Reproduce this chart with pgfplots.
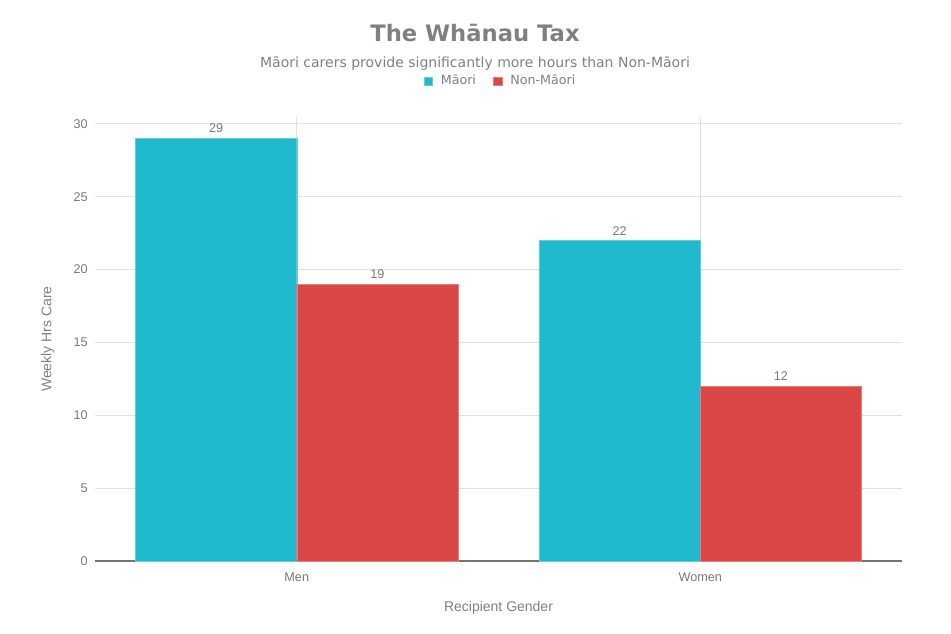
\documentclass[border=0pt]{standalone}
\usepackage{fontspec}
\setmainfont{DejaVu Sans}
\newfontfamily\tickfont{Liberation Sans}
\usepackage{pgfplots}
\pgfplotsset{compat=1.18}
\definecolor{maori}{RGB}{32,184,205}
\definecolor{nonmaori}{RGB}{219,70,70}
\definecolor{txt}{RGB}{128,128,128}
\definecolor{tick}{RGB}{120,120,120}
\definecolor{grd}{RGB}{225,225,225}
\begin{document}
\begin{tikzpicture}
\useasboundingbox (-71.25pt,-54pt) rectangle (642pt,420.75pt);
\begin{axis}[
    scale only axis,
    width=605.25pt, height=333pt,
    ybar=0pt, bar width=0.4,
    xmin=-0.5, xmax=1.5,
    ymin=0, ymax=30.47,
    xtick=data, xticklabels={Men, Women},
    ytick={0,5,...,30},
    axis x line*=bottom, axis y line*=left,
    x axis line style={draw=black!55, line width=0.8pt, -},
    y axis line style={draw=none},
    ymajorgrids, xmajorgrids,
    grid style={grd, line width=0.6pt},
    major tick length=0pt,
    tick label style={font=\tickfont\fontsize{9.5}{11}\selectfont, text=tick},
    /pgf/number format/assume math mode=true,
    yticklabel style={xshift=-2pt},
    xticklabel style={yshift=-5.5pt},
    ylabel={Weekly Hrs Care},
    xlabel={Recipient Gender},
    label style={font=\tickfont\fontsize{10.5}{12}\selectfont, text=txt},
    ylabel style={at={(rel axis cs:0,0.5)}, anchor=south, yshift=27pt},
    xlabel style={at={(rel axis cs:0.5,0)}, anchor=center, yshift=-35.5pt},
    nodes near coords,
    every node near coord/.append style={font=\tickfont\fontsize{9.5}{11}\selectfont, text=tick, yshift=0.5pt},
    legend style={at={(0.503,1.081)}, anchor=center, draw=none, fill=none,
        legend columns=2, font=\fontsize{9.5}{11}\selectfont, text=txt,
        /tikz/every odd column/.append style={column sep=4pt},
        /tikz/every even column/.append style={column sep=11pt}},
    legend image code/.code={\fill[#1] (0pt,-3.2pt) rectangle (6.4pt,3.2pt);},
    clip=false,
]
\addplot[fill=maori, draw=maori!70!white, line width=0.3pt] coordinates {(0,29) (1,22)};
\addplot[fill=nonmaori, draw=nonmaori!70!white, line width=0.3pt] coordinates {(0,19) (1,12)};
\legend{Māori, Non-Māori}
\end{axis}
\node[font=\bfseries\fontsize{17}{20}\selectfont, text=txt] at (285pt,396pt) {The Whānau Tax};
\node[font=\fontsize{10.5}{12}\selectfont, text=txt] at (285pt,372.75pt) {Māori carers provide significantly more hours than Non-Māori};
\end{tikzpicture}
\end{document}
